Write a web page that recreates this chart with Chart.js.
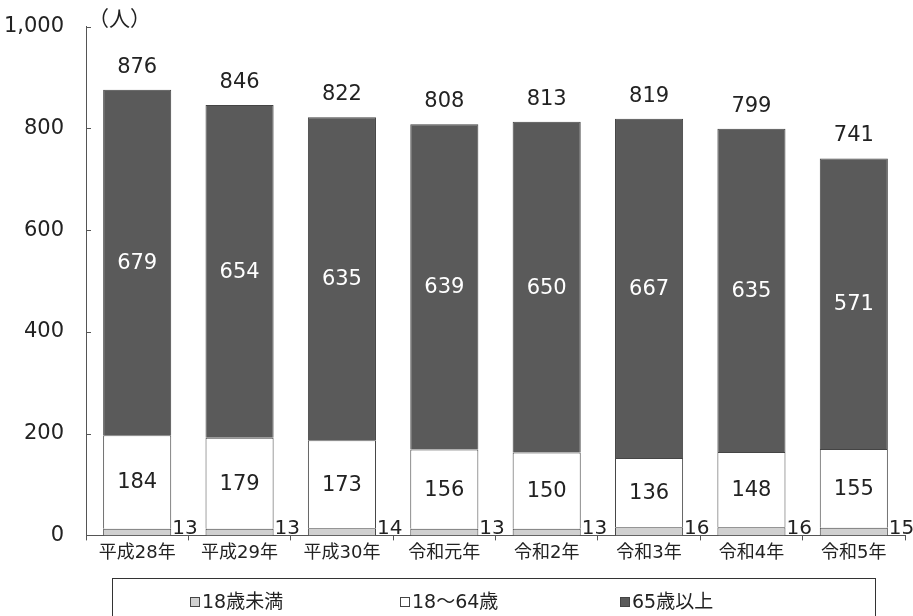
<!DOCTYPE html>
<html>
<head>
<meta charset="utf-8">
<script src="https://cdn.jsdelivr.net/npm/chart.js@4/dist/chart.umd.min.js"></script>
<style>
  html, body { margin: 0; padding: 0; background: #fff; }
  #wrap { width: 913px; height: 616px; }
</style>
</head>
<body>
<div id="wrap"><canvas id="chart" width="913" height="616"></canvas></div>
<script>
const categories = ['平成28年', '平成29年', '平成30年', '令和元年', '令和2年', '令和3年', '令和4年', '令和5年'];
const under18 = [13, 13, 14, 13, 13, 16, 16, 15];
const age18to64 = [184, 179, 173, 156, 150, 136, 148, 155];
const age65plus = [679, 654, 635, 639, 650, 667, 635, 571];
const seriesNames = ['18歳未満', '18～64歳', '65歳以上'];
const yTicks = [0, 200, 400, 600, 800, 1000];

const FONT = '"DejaVu Sans ExtraLight", "DejaVu Sans", "Noto Sans CJK JP", sans-serif';
const INK = '#222';

// labels on and beside the bars, plus totals
const barLabels = {
  id: 'barLabels',
  afterDatasetsDraw(chart) {
    const ctx = chart.ctx;
    ctx.save();
    const m0 = chart.getDatasetMeta(0), m1 = chart.getDatasetMeta(1), m2 = chart.getDatasetMeta(2);
    categories.forEach((c, i) => {
      const b0 = m0.data[i], b1 = m1.data[i], b2 = m2.data[i];
      // under 18: to the right of the bar
      ctx.font = '20px ' + FONT;
      ctx.fillStyle = INK;
      ctx.textAlign = 'left';
      ctx.textBaseline = 'bottom';
      ctx.fillText(String(under18[i]), b0.x + b0.width / 2 + 1, b0.base + 3);
      // 18-64 middle
      ctx.font = '21px ' + FONT;
      ctx.textAlign = 'center';
      ctx.textBaseline = 'middle';
      ctx.fillText(String(age18to64[i]), b1.x, (b1.y + b1.base) / 2 + 1);
      // 65+ middle, white
      ctx.fillStyle = '#fff';
      ctx.fillText(String(age65plus[i]), b2.x, (b2.y + b2.base) / 2 + 1);
      // total
      ctx.fillStyle = INK;
      ctx.textBaseline = 'bottom';
      ctx.fillText(String(under18[i] + age18to64[i] + age65plus[i]), b2.x, b2.y - 12);
    });
    ctx.restore();
  }
};

// inward y ticks, unit label, legend box
const decor = {
  id: 'decor',
  afterDraw(chart) {
    const ctx = chart.ctx;
    const y = chart.scales.y;
    const area = chart.chartArea;
    ctx.save();
    ctx.strokeStyle = '#555';
    ctx.lineWidth = 1;
    yTicks.forEach(v => {
      const py = Math.round(y.getPixelForValue(v)) + 0.5;
      ctx.beginPath();
      ctx.moveTo(area.left, py);
      ctx.lineTo(area.left + 5, py);
      ctx.stroke();
    });
    ctx.fillStyle = INK;
    ctx.font = '21px "Noto Sans CJK JP", sans-serif';
    ctx.textAlign = 'left';
    ctx.textBaseline = 'middle';
    ctx.fillText('（人）', area.left + 2, area.top - 9);

    // legend
    const lx = 112.5, ly = 578.5, lw = 763, lh = 60;
    ctx.strokeStyle = '#333';
    ctx.strokeRect(lx, ly, lw, lh);
    const items = [
      { x: 190, fill: '#d0d0d0' },
      { x: 400, fill: '#ffffff' },
      { x: 620, fill: '#5a5a5a' }
    ];
    ctx.font = '19px ' + FONT;
    items.forEach((it, k) => {
      ctx.fillStyle = it.fill;
      ctx.fillRect(it.x + 0.5, 597.5, 9, 9);
      ctx.strokeStyle = '#444';
      ctx.strokeRect(it.x + 0.5, 597.5, 9, 9);
      ctx.fillStyle = INK;
      ctx.fillText(seriesNames[k], it.x + 12, 603);
    });
    ctx.restore();
  }
};

new Chart(document.getElementById('chart'), {
  type: 'bar',
  data: {
    labels: categories,
    datasets: [
      { label: seriesNames[0], data: under18, backgroundColor: '#d0d0d0', borderColor: '#444', borderWidth: 1 },
      { label: seriesNames[1], data: age18to64, backgroundColor: '#ffffff', borderColor: '#444', borderWidth: 1 },
      { label: seriesNames[2], data: age65plus, backgroundColor: '#5a5a5a', borderColor: '#444', borderWidth: 1 }
    ]
  },
  options: {
    responsive: false,
    animation: false,
    layout: { padding: { top: 16, right: 8, bottom: 50, left: 0 } },
    datasets: { bar: { barPercentage: 0.665, categoryPercentage: 1.0 } },
    plugins: {
      legend: { display: false },
      tooltip: { enabled: false },
      title: { display: false }
    },
    scales: {
      x: {
        stacked: true,
        grid: { display: true, drawOnChartArea: false, offset: true, tickLength: 5, color: '#555' },
        border: { display: true, color: '#555' },
        ticks: { color: INK, font: { family: FONT, size: 18 }, padding: 2, maxRotation: 0 }
      },
      y: {
        stacked: true,
        min: 0,
        max: 1000,
        afterBuildTicks(scale) { scale.ticks = yTicks.map(v => ({ value: v })); },
        afterFit(scale) { scale.width = 86; },
        grid: { display: false },
        border: { display: true, color: '#555' },
        ticks: {
          color: INK,
          font: { family: FONT, size: 21 },
          padding: 14,
          callback: v => v.toLocaleString('en-US')
        }
      }
    }
  },
  plugins: [barLabels, decor]
});
</script>
</body>
</html>
